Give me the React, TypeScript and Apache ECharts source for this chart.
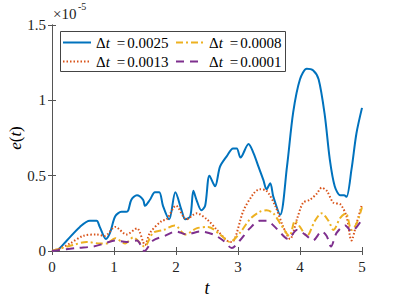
import React, { useEffect, useRef } from "react";
import * as echarts from "echarts";

// values of e(t) in units of 1e-5
const tBlue = [0, 0.1, 0.24, 0.45, 0.61, 0.72, 0.77, 0.87, 0.935, 1.02, 1.12, 1.2, 1.23, 1.28, 1.37, 1.47, 1.5, 1.58, 1.66, 1.73, 1.79, 1.89, 1.99, 2.09, 2.15, 2.23, 2.28, 2.33, 2.41, 2.47, 2.54, 2.63, 2.71, 2.82, 2.92, 2.98, 3.04, 3.17, 3.25, 3.33, 3.41, 3.46, 3.52, 3.57, 3.68, 3.79, 3.89, 4.0, 4.11, 4.21, 4.3, 4.4, 4.48, 4.56, 4.65, 4.71, 4.75, 4.83, 4.91, 5.0];
const eBlue = [0, 0.01, 0.07, 0.16, 0.2, 0.2, 0.16, 0.08, 0.12, 0.23, 0.26, 0.26, 0.27, 0.34, 0.37, 0.34, 0.3, 0.34, 0.39, 0.39, 0.3, 0.21, 0.39, 0.27, 0.21, 0.23, 0.4, 0.34, 0.27, 0.3, 0.5, 0.43, 0.56, 0.63, 0.68, 0.68, 0.62, 0.71, 0.65, 0.56, 0.47, 0.41, 0.45, 0.36, 0.24, 0.56, 0.92, 1.14, 1.21, 1.2, 1.14, 0.9, 0.61, 0.43, 0.37, 0.37, 0.36, 0.54, 0.78, 0.95];

const tRed = [0, 0.15, 0.29, 0.5, 0.72, 0.85, 1.02, 1.2, 1.37, 1.5, 1.58, 1.77, 1.85, 2.0, 2.17, 2.33, 2.5, 2.66, 2.82, 2.9, 3.09, 3.25, 3.35, 3.46, 3.6, 3.73, 3.84, 3.95, 4.05, 4.16, 4.27, 4.35, 4.43, 4.54, 4.65, 4.75, 4.83, 4.91, 5.0];
const eRed = [0, 0.02, 0.05, 0.1, 0.11, 0.1, 0.16, 0.11, 0.15, 0.04, 0.12, 0.2, 0.21, 0.3, 0.21, 0.25, 0.21, 0.14, 0.07, 0.06, 0.27, 0.38, 0.41, 0.4, 0.3, 0.16, 0.08, 0.21, 0.32, 0.34, 0.38, 0.42, 0.4, 0.32, 0.31, 0.23, 0.07, 0.18, 0.31];

const tYellow = [0, 0.08, 0.34, 0.56, 0.77, 0.88, 1.02, 1.18, 1.31, 1.49, 1.63, 1.8, 1.98, 2.15, 2.33, 2.52, 2.71, 2.87, 3.03, 3.19, 3.35, 3.46, 3.57, 3.7, 3.83, 3.92, 4.0, 4.11, 4.24, 4.35, 4.46, 4.54, 4.65, 4.74, 4.83, 4.91, 5.0];
const eYellow = [0, 0.01, 0.04, 0.06, 0.05, 0.05, 0.085, 0.05, 0.09, 0.03, 0.12, 0.14, 0.17, 0.11, 0.15, 0.16, 0.11, 0.06, 0.12, 0.21, 0.26, 0.27, 0.25, 0.17, 0.1, 0.2, 0.16, 0.1, 0.2, 0.25, 0.2, 0.14, 0.22, 0.25, 0.14, 0.18, 0.29];

const tPurple = [0, 0.4, 0.67, 0.85, 1.02, 1.2, 1.37, 1.49, 1.63, 1.82, 2.0, 2.17, 2.39, 2.6, 2.76, 2.9, 3.03, 3.19, 3.35, 3.46, 3.62, 3.81, 3.95, 4.08, 4.21, 4.35, 4.43, 4.5, 4.59, 4.73, 4.83, 5.0];
const ePurple = [0, 0.02, 0.03, 0.05, 0.07, 0.06, 0.07, 0.0, 0.07, 0.1, 0.13, 0.11, 0.13, 0.11, 0.07, 0.02, 0.07, 0.15, 0.2, 0.2, 0.15, 0.08, 0.14, 0.11, 0.07, 0.13, 0.1, 0.03, 0.12, 0.17, 0.13, 0.21];

const stepNames = ["0.0025", "0.0013", "0.0008", "0.0001"];
const yTicks = [0, 0.5, 1, 1.5];
const xTicks = [0, 1, 2, 3, 4, 5];

const FONT = "Liberation Serif";
const AX = "#555555";

function zip(t: number[], e: number[]) {
  return t.map((v, i) => [v, e[i]]);
}

export default function App() {
  const ref = useRef<HTMLDivElement>(null);
  useEffect(() => {
    if (!ref.current) return;
    const chart = echarts.init(ref.current, undefined, { renderer: "svg" });
    const rich = {
      d: { fontFamily: FONT, fontSize: 15, color: "#000" },
      i: { fontFamily: FONT, fontSize: 15, fontStyle: "italic", color: "#000" },
      e: { fontFamily: FONT, fontSize: 15, color: "#000", padding: [0, 2, 0, 7] },
    };
    const legendCommon = {
      orient: "vertical" as const,
      itemWidth: 28,
      itemHeight: 14,
      itemGap: 4,
      itemTextGap: 3,
      padding: 0,
      selectedMode: false,
      z: 6,
      itemStyle: { opacity: 0 },
      formatter: (name: string) => `{d|Δ}{i|t}{e|=}{d|${name}}`,
      textStyle: { fontFamily: FONT, rich },
    };
    const lineSeries = (name: string, t: number[], e: number[], color: string, type: any, width: number) => ({
      name,
      type: "line",
      data: zip(t, e),
      symbol: "none",
      smooth: 0.3,
      lineStyle: { color, width, type },
      itemStyle: { color },
      z: 2,
    });
    chart.setOption({
      animation: false,
      textStyle: { fontFamily: FONT },
      grid: { left: 52, right: 37, top: 25, bottom: 48, containLabel: false, outerBoundsMode: "none" },
      xAxis: [
        {
          type: "value",
          min: xTicks[0],
          max: xTicks[xTicks.length - 1],
          interval: 1,
          name: "t",
          nameLocation: "middle",
          nameGap: 27,
          nameTextStyle: { fontFamily: FONT, fontSize: 18, fontStyle: "italic", color: "#000" },
          axisLine: { show: true, lineStyle: { color: AX, width: 1 } },
          axisTick: { inside: true, length: 4, lineStyle: { color: AX } },
          axisLabel: { fontFamily: FONT, fontSize: 15, color: "#222", margin: 8 },
          splitLine: { show: false },
        },
        {
          type: "value",
          position: "top",
          min: xTicks[0],
          max: xTicks[xTicks.length - 1],
          interval: 1,
          axisLine: { show: true, lineStyle: { color: AX, width: 1 } },
          axisTick: { inside: true, length: 4, lineStyle: { color: AX } },
          axisLabel: { show: false },
          splitLine: { show: false },
        },
      ],
      yAxis: [
        {
          type: "value",
          min: yTicks[0],
          max: yTicks[yTicks.length - 1],
          interval: 0.5,
          axisLine: { show: true, lineStyle: { color: AX, width: 1 } },
          axisTick: { inside: true, length: 4, lineStyle: { color: AX } },
          axisLabel: { fontFamily: FONT, fontSize: 15, color: "#222", margin: 6, formatter: (v: number) => String(v) },
          splitLine: { show: false },
        },
        {
          type: "value",
          position: "right",
          min: yTicks[0],
          max: yTicks[yTicks.length - 1],
          interval: 0.5,
          axisLine: { show: true, lineStyle: { color: AX, width: 1 } },
          axisTick: { inside: true, length: 4, lineStyle: { color: AX } },
          axisLabel: { show: false },
          splitLine: { show: false },
        },
      ],
      legend: [
        { ...legendCommon, left: 62, top: 35, data: [stepNames[0], stepNames[1]] },
        { ...legendCommon, left: 175, top: 35, data: [stepNames[2], stepNames[3]] },
      ],
      graphic: [
        {
          type: "rect",
          shape: { x: 60.5, y: 31.5, width: 225, height: 40 },
          style: { fill: "#fff", stroke: "#444", lineWidth: 1 },
          z: 4,
        },
        {
          type: "text",
          x: 15,
          y: 138,
          rotation: Math.PI / 2,
          style: {
            text: "{i|e}{d|(}{i|t}{d|)}",
            align: "center",
            verticalAlign: "middle",
            rich: {
              d: { fontFamily: FONT, fontSize: 17, fill: "#000" },
              i: { fontFamily: FONT, fontSize: 17, fontStyle: "italic", fill: "#000" },
            },
          },
        },
        {
          type: "text",
          x: 53,
          y: 6,
          style: { text: "×10", fontFamily: FONT, fontSize: 15, fill: "#222" },
        },
        {
          type: "text",
          x: 78,
          y: 1,
          style: { text: "-5", fontFamily: FONT, fontSize: 10, fill: "#222" },
        },
      ],
      series: [
        lineSeries(stepNames[0], tBlue, eBlue, "#0072BD", "solid", 2),
        lineSeries(stepNames[1], tRed, eRed, "#D95319", [1.5, 2], 2),
        lineSeries(stepNames[2], tYellow, eYellow, "#EDB120", [7, 3, 2, 3], 2),
        lineSeries(stepNames[3], tPurple, ePurple, "#7E2F8E", [8, 6], 2),
      ],
    });
    return () => chart.dispose();
  }, []);
  return <div ref={ref} style={{ width: 399, height: 299, position: "absolute", left: 0, top: 0, background: "#fff" }} />;
}
